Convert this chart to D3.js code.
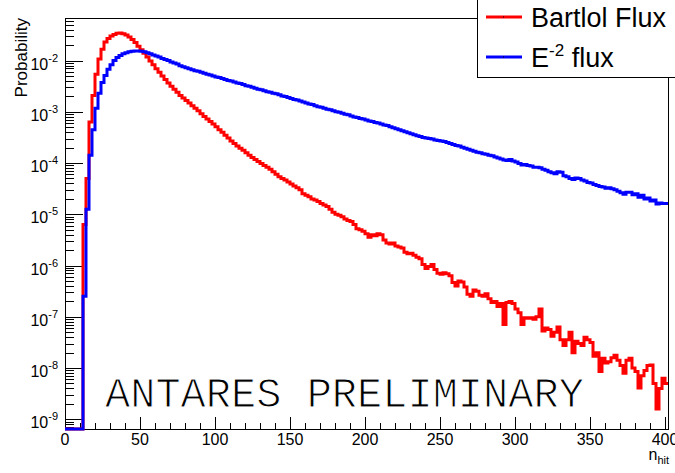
<!DOCTYPE html>
<html><head><meta charset="utf-8">
<script src="https://cdn.jsdelivr.net/npm/d3@7"></script>
<style>body{margin:0;background:#fff;} svg{display:block;}</style>
</head><body>
<svg id="c" width="675" height="473"></svg>
<script>
// Histogram bins: width 2 in n_hit, from 0 to 402
const binStart = 0, binWidth = 2, binCount = 201;
// log10(probability) per bin (null = empty bin)
const redLog10 = [
 null,null,null,null,null,null,-5.2,-4.3,-3.2,-2.68,
 -2.27,-1.97,-1.78,-1.64,-1.57,-1.52,-1.49,-1.47,-1.465,-1.475,
 -1.50,-1.54,-1.59,-1.65,-1.72,-1.79,-1.86,-1.93,-2.01,-2.08,
 -2.16,-2.23,-2.30,-2.37,-2.44,-2.50,-2.56,-2.62,-2.68,-2.73,
 -2.78,-2.83,-2.88,-2.93,-2.98,-3.04,-3.09,-3.14,-3.19,-3.24,
 -3.29,-3.35,-3.40,-3.46,-3.51,-3.57,-3.62,-3.67,-3.71,-3.75,
 -3.80,-3.85,-3.89,-3.93,-3.97,-4.01,-4.05,-4.08,-4.12,-4.17,
 -4.22,-4.27,-4.30,-4.33,-4.37,-4.41,-4.45,-4.48,-4.52,-4.60,
 -4.63,-4.66,-4.70,-4.72,-4.75,-4.79,-4.82,-4.85,-4.90,-4.96,
 -5.00,-5.02,-5.05,-5.09,-5.12,-5.14,-5.20,-5.28,-5.30,-5.33,
 -5.38,-5.45,-5.40,-5.42,-5.38,-5.40,-5.50,-5.56,-5.58,-5.56,
 -5.62,-5.64,-5.66,-5.74,-5.77,-5.76,-5.80,-5.84,-5.87,-5.98,
 -6.06,-6.02,-5.98,-6.08,-6.15,-6.17,-6.14,-6.16,-6.20,-6.33,
 -6.40,-6.30,-6.32,-6.42,-6.56,-6.60,-6.48,-6.50,-6.58,-6.60,
 -6.55,-6.65,-6.72,-6.70,-6.80,-6.74,-7.15,-6.72,-6.70,-6.74,
 -6.85,-6.92,-7.15,-7.02,-7.03,-7.02,-7.05,-7.00,-6.85,-7.28,
 -7.22,-7.25,-7.38,-7.30,-7.20,-7.45,-7.56,-7.45,-7.30,-7.70,
 -7.48,-7.52,-7.56,-7.40,-7.45,-7.50,-7.77,-7.70,-8.07,-7.81,
 -7.90,-7.88,-7.80,-7.75,-7.85,-7.95,-8.10,-7.85,-7.81,-8.00,
 -8.07,-8.39,-8.15,-8.05,-7.95,-7.94,-8.30,-8.80,-8.40,-8.20,
 -8.30
];
const blueLog10 = [
 null,null,null,null,null,null,-6.6,-4.9,-3.85,-3.35,
 -2.93,-2.64,-2.43,-2.29,-2.17,-2.08,-2.00,-1.94,-1.90,-1.87,
 -1.85,-1.83,-1.82,-1.815,-1.815,-1.82,-1.83,-1.85,-1.87,-1.89,
 -1.91,-1.93,-1.96,-1.98,-2.00,-2.03,-2.05,-2.07,-2.10,-2.12,
 -2.14,-2.16,-2.18,-2.20,-2.21,-2.23,-2.25,-2.27,-2.28,-2.30,
 -2.32,-2.33,-2.35,-2.37,-2.39,-2.40,-2.42,-2.44,-2.45,-2.47,
 -2.49,-2.50,-2.52,-2.54,-2.56,-2.57,-2.59,-2.61,-2.62,-2.64,
 -2.65,-2.67,-2.69,-2.70,-2.72,-2.74,-2.76,-2.77,-2.79,-2.81,
 -2.83,-2.85,-2.86,-2.88,-2.90,-2.91,-2.93,-2.95,-2.96,-2.98,
 -3.00,-3.01,-3.03,-3.05,-3.06,-3.08,-3.10,-3.11,-3.13,-3.14,
 -3.16,-3.18,-3.19,-3.21,-3.22,-3.24,-3.26,-3.27,-3.29,-3.31,
 -3.33,-3.35,-3.37,-3.39,-3.41,-3.43,-3.45,-3.47,-3.48,-3.50,
 -3.51,-3.52,-3.53,-3.55,-3.56,-3.57,-3.58,-3.60,-3.62,-3.64,
 -3.66,-3.67,-3.69,-3.71,-3.73,-3.75,-3.77,-3.79,-3.80,-3.82,
 -3.83,-3.85,-3.86,-3.88,-3.90,-3.92,-3.94,-3.95,-3.93,-3.96,
 -3.98,-4.01,-4.04,-4.03,-4.05,-4.06,-4.08,-4.08,-4.09,-4.12,
 -4.14,-4.17,-4.19,-4.21,-4.17,-4.18,-4.25,-4.27,-4.30,-4.32,
 -4.29,-4.30,-4.33,-4.35,-4.38,-4.39,-4.42,-4.44,-4.46,-4.47,
 -4.49,-4.48,-4.50,-4.52,-4.55,-4.58,-4.61,-4.57,-4.57,-4.62,
 -4.60,-4.67,-4.63,-4.70,-4.68,-4.74,-4.72,-4.80,-4.78,-4.79,
 -4.79
];
const xTickValues = [0,50,100,150,200,250,300,350,400];
const yDecades = [-9,-8,-7,-6,-5,-4,-3,-2];
const seriesNames = ["Bartlol Flux", "E-2 flux"];
const seriesColors = ["#ff0000", "#0000ff"];

const svg = d3.select("#c");
const L = 65, R = 668, T = 18, B = 429;
const x = d3.scaleLinear().domain([0, 402]).range([L, R]);
const yMin = Math.pow(10, -9.19), yMax = Math.pow(10, -1.17);
const y = d3.scaleLog().domain([yMin, yMax]).range([B, T]);

// frame
svg.append("rect").attr("x", L).attr("y", T).attr("width", R - L).attr("height", B - T)
  .attr("fill", "none").attr("stroke", "#000").attr("stroke-width", 1).attr("shape-rendering", "crispEdges");

// x ticks
const gx = svg.append("g").attr("stroke", "#000").attr("stroke-width", 1).attr("shape-rendering", "crispEdges");
for (let v = 0; v <= 402; v += 10) {
  const major = xTickValues.includes(v);
  gx.append("line").attr("x1", Math.round(x(v)) + 0.5).attr("x2", Math.round(x(v)) + 0.5)
    .attr("y1", B).attr("y2", B - (major ? 12 : 6));
}
svg.append("g").selectAll("text").data(xTickValues).join("text")
  .attr("x", d => x(d)).attr("y", 445).attr("text-anchor", "middle")
  .attr("font-family", "Liberation Sans, Arial, sans-serif").attr("font-size", 16)
  .text(d => d);

// y ticks (log)
const gy = svg.append("g").attr("stroke", "#000").attr("stroke-width", 1).attr("shape-rendering", "crispEdges");
for (let d = -10; d <= -1; d++) {
  for (let m = 1; m <= 9; m++) {
    const v = m * Math.pow(10, d);
    if (v < yMin || v > yMax) continue;
    const yy = Math.round(y(v)) + 0.5;
    gy.append("line").attr("x1", L).attr("x2", L + (m === 1 ? 18 : 9)).attr("y1", yy).attr("y2", yy);
  }
}
const yl = svg.append("g").attr("font-family", "Liberation Sans, Arial, sans-serif");
yDecades.forEach(d => {
  const t = yl.append("text").attr("x", 58).attr("y", y(Math.pow(10, d)) + 9)
    .attr("text-anchor", "end").attr("font-size", 16);
  t.append("tspan").text("10");
  t.append("tspan").attr("font-size", 11).attr("dy", -8).text(String(d));
});

// axis titles
const xt = svg.append("text").attr("x", 669).attr("y", 460).attr("text-anchor", "end")
  .attr("font-family", "Liberation Sans, Arial, sans-serif").attr("font-size", 16);
xt.append("tspan").text("n");
xt.append("tspan").attr("font-size", 11).attr("dy", 4).text("hit");
svg.append("text").attr("transform", "translate(27," + T + ") rotate(-90)")
  .attr("text-anchor", "end").attr("font-family", "Liberation Sans, Arial, sans-serif")
  .attr("font-size", 17).text("Probability");

// histograms
function histPoints(logs) {
  const pts = [];
  logs.forEach((lv, i) => {
    const x0 = binStart + i * binWidth, x1 = x0 + binWidth;
    const val = lv === null ? yMin : Math.max(yMin, Math.pow(10, lv));
    pts.push([x0, val], [x1, val]);
  });
  return pts;
}
const line = d3.line().x(d => x(d[0])).y(d => y(d[1]));
[redLog10, blueLog10].forEach((arr, k) => {
  svg.append("path").attr("d", line(histPoints(arr))).attr("fill", "none")
    .attr("stroke", seriesColors[k]).attr("stroke-width", 3).attr("stroke-linejoin", "miter");
});

// ANTARES PRELIMINARY (thin Courier-like look)
svg.append("text").attr("x", 105).attr("y", 407)
  .attr("font-family", "Liberation Mono, Courier New, monospace").attr("font-size", 42)
  .attr("fill", "#000").attr("stroke", "#fff").attr("stroke-width", 1.1)
  .text("ANTARES PRELIMINARY");

// legend
const lg = svg.append("g");
lg.append("rect").attr("x", 477.5).attr("y", -10).attr("width", 220).attr("height", 87.5)
  .attr("fill", "#fff").attr("stroke", "#000").attr("stroke-width", 1);
const rowsY = [17, 57];
rowsY.forEach((ry, k) => {
  lg.append("line").attr("x1", 486).attr("x2", 522).attr("y1", ry).attr("y2", ry)
    .attr("stroke", seriesColors[k]).attr("stroke-width", 3);
  lg.append("rect").attr("x", 503).attr("y", ry - 0.5).attr("width", 1).attr("height", 1).attr("fill", "#000");
});
lg.append("text").attr("x", 531).attr("y", 27).attr("font-family", "Liberation Sans, Arial, sans-serif")
  .attr("font-size", 27).text(seriesNames[0]);
const t2 = lg.append("text").attr("x", 531).attr("y", 67).attr("font-family", "Liberation Sans, Arial, sans-serif")
  .attr("font-size", 27);
t2.append("tspan").text("E");
t2.append("tspan").attr("font-size", 17).attr("dy", -11).text("-2");
t2.append("tspan").attr("dy", 11).text(" flux");
</script>
</body></html>
